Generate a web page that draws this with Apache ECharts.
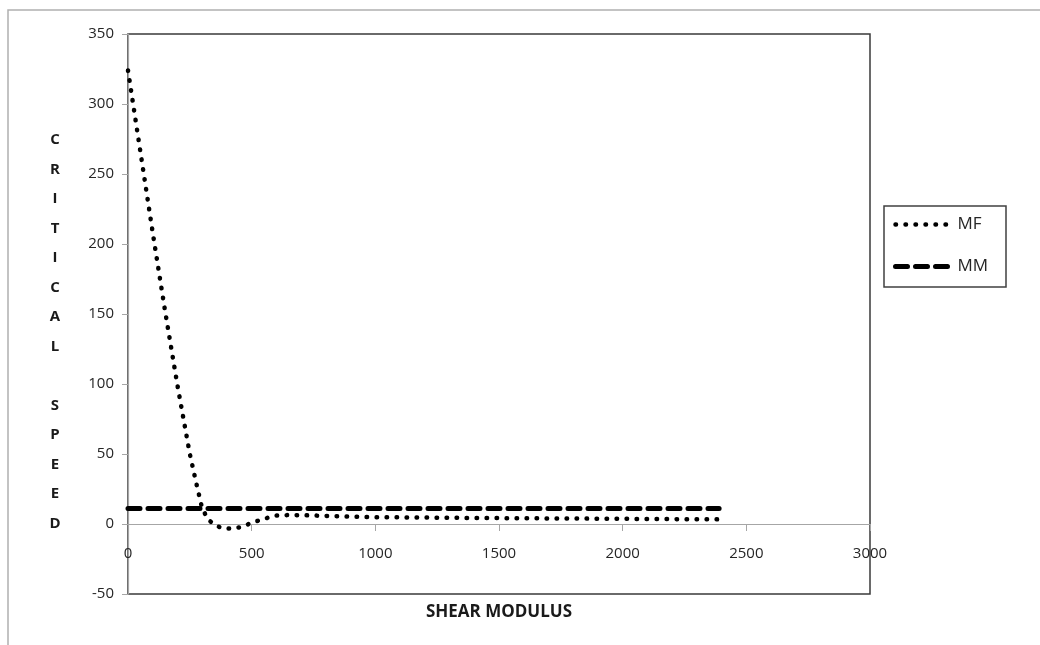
<!DOCTYPE html>
<html>
<head>
<meta charset="utf-8">
<script src="https://cdn.jsdelivr.net/npm/echarts@6/dist/echarts.min.js"></script>
<style>
html,body{margin:0;padding:0;background:#fff;}
#chart{width:1040px;height:645px;}
</style>
</head>
<body>
<div id="chart"></div>
<script>
// ---- data ----
const mfX = [0,50,100,150,200,250,275,300,325,350,375,400,425,450,475,500,525,550,575,600,650,700,800,900,1000,1200,1400,1600,1800,2000,2200,2390];
const mfY = [324,266,208,152,99,50,30,11,3,-0.5,-2.6,-3.2,-3.3,-2.4,-0.9,0.8,2.3,3.6,5,6,6.4,6.3,5.8,5.3,4.9,4.6,4.3,4.1,3.9,3.7,3.5,3.3];
const mmX = [0, 2390];
const mmY = [11, 11];
const seriesNames = ['MF', 'MM'];
const xTitle = 'SHEAR MODULUS';
const yTitleLetters = ['C','R','I','T','I','C','A','L','','S','P','E','E','D'];

const pairs = (xs, ys) => xs.map((x, i) => [x, ys[i]]);

const chart = echarts.init(document.getElementById('chart'), null, {renderer: 'canvas'});
const labelFont = '"Open Sans", "Liberation Sans", sans-serif';
const mfLine = {color: '#000', width: 4.5, type: [0.5, 9.5], cap: 'round'};
const mmLine = {color: '#000', width: 5, type: [12, 8], cap: 'round'};

chart.setOption({
  animation: false,
  backgroundColor: '#ffffff',
  grid: {
    left: 128, right: 170, top: 34, bottom: 51,
    show: true, borderColor: '#3a3a3a', borderWidth: 1.5
  },
  xAxis: {
    type: 'value', min: 0, max: 3000, interval: 500,
    position: 'bottom', offset: -70,
    axisLine: {onZero: false, lineStyle: {color: '#a6a6a6', width: 1.2}},
    axisTick: {show: true, length: 7, lineStyle: {color: '#a6a6a6'}},
    axisLabel: {margin: 22, fontSize: 15, color: '#262626', fontFamily: labelFont, formatter: v => String(v)},
    splitLine: {show: false}
  },
  yAxis: {
    type: 'value', min: -50, max: 350, interval: 50,
    axisLine: {show: true, onZero: false, lineStyle: {color: '#a6a6a6', width: 1.2}},
    axisTick: {show: true, length: 6, lineStyle: {color: '#a6a6a6'}},
    axisLabel: {margin: 14, fontSize: 15, color: '#262626', fontFamily: labelFont, formatter: v => String(v)},
    splitLine: {show: false}
  },
  legend: {
    orient: 'vertical', left: 893, top: 216,
    itemWidth: 55, itemHeight: 16, itemGap: 25,
    padding: 0,
    textStyle: {fontSize: 17, color: '#262626', fontFamily: labelFont, padding: [0,0,0,2]},
    data: [
      {name: seriesNames[0], lineStyle: mfLine, itemStyle: {opacity: 0}},
      {name: seriesNames[1], lineStyle: mmLine, itemStyle: {opacity: 0}}
    ]
  },
  graphic: [
    {type: 'rect', shape: {x: 8, y: 10, width: 1100, height: 700}, style: {fill: 'none', stroke: '#b0b0b0', lineWidth: 1.5}, silent: true, z: -10},
    {type: 'rect', shape: {x: 884, y: 206, width: 122, height: 81}, style: {fill: 'none', stroke: '#404040', lineWidth: 1.5}, silent: true},
    {type: 'text', x: 499, y: 612, style: {text: xTitle, textAlign: 'center', textVerticalAlign: 'middle', font: 'bold 17px "Open Sans", "Liberation Sans", sans-serif', fill: '#1a1a1a'}},
    {type: 'text', x: 55, y: 125, style: {text: yTitleLetters.join('\n'), textAlign: 'center', textVerticalAlign: 'top', lineHeight: 29.5, font: 'bold 15px "Open Sans", "Liberation Sans", sans-serif', fill: '#1a1a1a'}}
  ],
  series: [
    {
      name: seriesNames[0], type: 'line', data: pairs(mfX, mfY),
      symbol: 'none', smooth: false,
      lineStyle: mfLine,
      itemStyle: {color: '#000'}
    },
    {
      name: seriesNames[1], type: 'line', data: pairs(mmX, mmY),
      symbol: 'none',
      lineStyle: mmLine,
      itemStyle: {color: '#000'}
    }
  ]
});
</script>
</body>
</html>
